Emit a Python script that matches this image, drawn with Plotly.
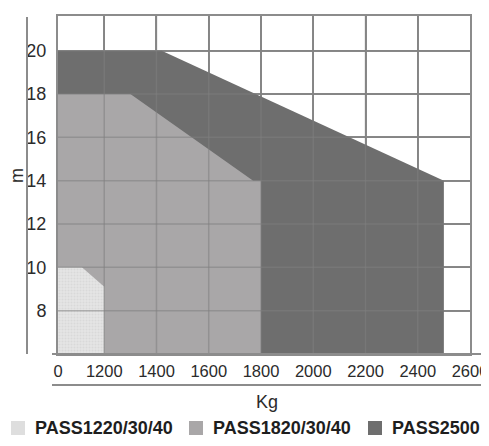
import plotly.graph_objects as go

# axis ticks
kg_ticks = [0, 1200, 1400, 1600, 1800, 2000, 2200, 2400, 2600]
m_ticks = [8, 10, 12, 14, 16, 18, 20]

# load envelopes (outline of each area), kg vs m
pass1220_kg = [0, 0, 620, 1200, 1200]
pass1220_m = [6, 10, 10, 9.1, 6]

pass1820_kg = [0, 0, 1300, 1770, 1800, 1800]
pass1820_m = [6, 18, 18, 14, 14, 6]

pass2500_kg = [0, 0, 1420, 2500, 2500]
pass2500_m = [6, 20, 20, 14, 6]

names = ['PASS1220/30/40', 'PASS1820/30/40', 'PASS2500']
colors = ['#dedede', '#a9a7a8', '#6e6e6e']

FONT = 'Liberation Sans, Arial, sans-serif'

# the page body adds an 8px margin, so the figure is drawn that much smaller
# (and short enough that no scrollbar appears)
OFF = 8
W, H = 489 - OFF, 446 - 2 * OFF

# plot box in window pixels (used to place things outside the axes)
L, T, R, B = 58, 16, 470, 354


def px_x(p):
  return (p - L) / (R - L)


def px_y(p):
  return (B - p) / (B - T)


def axis_x(kg):
  # the chart squeezes 0..1200 into less than one 200 kg step
  if kg >= 1200:
    return kg
  return 1200 - (1200 - kg) * 177 / 1200


def to_axis(values):
  return [axis_x(v) for v in values]


fig = go.Figure()

fig.add_trace(go.Scatter(
  x = to_axis(pass2500_kg), y = pass2500_m, name = names[2],
  fill = 'toself', fillcolor = colors[2],
  mode = 'none', showlegend = False, hoverinfo = 'skip'
))
fig.add_trace(go.Scatter(
  x = to_axis(pass1820_kg), y = pass1820_m, name = names[1],
  fill = 'toself', fillcolor = colors[1],
  mode = 'none', showlegend = False, hoverinfo = 'skip'
))
fig.add_trace(go.Scatter(
  x = to_axis(pass1220_kg), y = pass1220_m, name = names[0],
  fill = 'toself', fillcolor = colors[0],
  fillpattern = dict(shape = '.', bgcolor = '#e6e6e6', fgcolor = '#cbcbcb',
                     size = 3, solidity = 0.4),
  mode = 'none', showlegend = False, hoverinfo = 'skip'
))

x_lo, x_hi = axis_x(0), 2600
y_lo, y_hi = 6, 21.6

# grid seen faintly through the filled areas
shapes = []
for t in kg_ticks[1:-1]:
  shapes.append(dict(type = 'line', layer = 'above', xref = 'x', yref = 'y',
                     x0 = axis_x(t), x1 = axis_x(t), y0 = y_lo, y1 = y_hi,
                     line = dict(color = 'rgba(128,128,128,0.55)', width = 1.5)))
for t in m_ticks:
  shapes.append(dict(type = 'line', layer = 'above', xref = 'x', yref = 'y',
                     x0 = x_lo, x1 = x_hi, y0 = t, y1 = t,
                     line = dict(color = 'rgba(128,128,128,0.55)', width = 1.5)))

# loose frame lines outside the plot
line_style = dict(color = '#8c8c8c', width = 2)
shapes += [
  dict(type = 'line', xref = 'paper', yref = 'paper',
       x0 = px_x(27), x1 = px_x(27), y0 = px_y(354), y1 = px_y(17), line = line_style),
  dict(type = 'line', xref = 'paper', yref = 'paper',
       x0 = px_x(52), x1 = px_x(486), y0 = px_y(354), y1 = px_y(354), line = line_style),
  dict(type = 'line', xref = 'paper', yref = 'paper',
       x0 = px_x(52), x1 = px_x(481), y0 = px_y(385), y1 = px_y(385), line = line_style),
]

annotations = [
  dict(text = 'm', xref = 'paper', yref = 'paper', x = px_x(17), y = px_y(176),
       xanchor = 'center', yanchor = 'middle',
       showarrow = False, textangle = -90, font = dict(size = 18)),
  dict(text = 'Kg', xref = 'paper', yref = 'paper', x = px_x(267), y = px_y(402),
       xanchor = 'center', yanchor = 'middle',
       showarrow = False, font = dict(size = 18)),
]

# legend drawn by hand below the axis
swatch_x = [11, 189, 368]
for sx, name, color in zip(swatch_x, names, colors):
  shapes.append(dict(type = 'rect', xref = 'paper', yref = 'paper',
                     x0 = px_x(sx), x1 = px_x(sx + 14), y0 = px_y(435), y1 = px_y(421),
                     fillcolor = color, line = dict(width = 0)))
  annotations.append(dict(text = name, xref = 'paper', yref = 'paper',
                          x = px_x(sx + 22), y = px_y(428), xanchor = 'left', yanchor = 'middle',
                          showarrow = False,
                          font = dict(size = 18, color = '#1e1e1e', weight = 'bold')))

fig.update_layout(
  width = W, height = H,
  margin = dict(l = L - OFF, r = 489 - R, t = T - OFF, b = H - (B - OFF)),
  plot_bgcolor = '#ffffff',
  paper_bgcolor = '#ffffff',
  font = dict(family = FONT, size = 18, color = '#2b2b2b'),
  shapes = shapes,
  annotations = annotations,
  showlegend = False,
)

fig.update_xaxes(
  range = [x_lo, x_hi], automargin = False,
  tickvals = to_axis(kg_ticks), ticktext = [str(t) for t in kg_ticks],
  tickfont = dict(size = 16.5),
  ticklabeloverflow = 'allow',
  showgrid = True, gridcolor = '#8c8c8c', gridwidth = 1.5,
  showline = True, mirror = True, linecolor = '#8c8c8c', linewidth = 2,
  zeroline = False, ticks = '', ticklabelstandoff = 1,
)
fig.update_yaxes(
  range = [y_lo, y_hi], automargin = False,
  tickvals = m_ticks,
  showgrid = True, gridcolor = '#8c8c8c', gridwidth = 1.5,
  showline = True, mirror = True, linecolor = '#8c8c8c', linewidth = 2,
  zeroline = False, ticks = '', ticklabelstandoff = 6,
)

fig.write_html('out.html')
